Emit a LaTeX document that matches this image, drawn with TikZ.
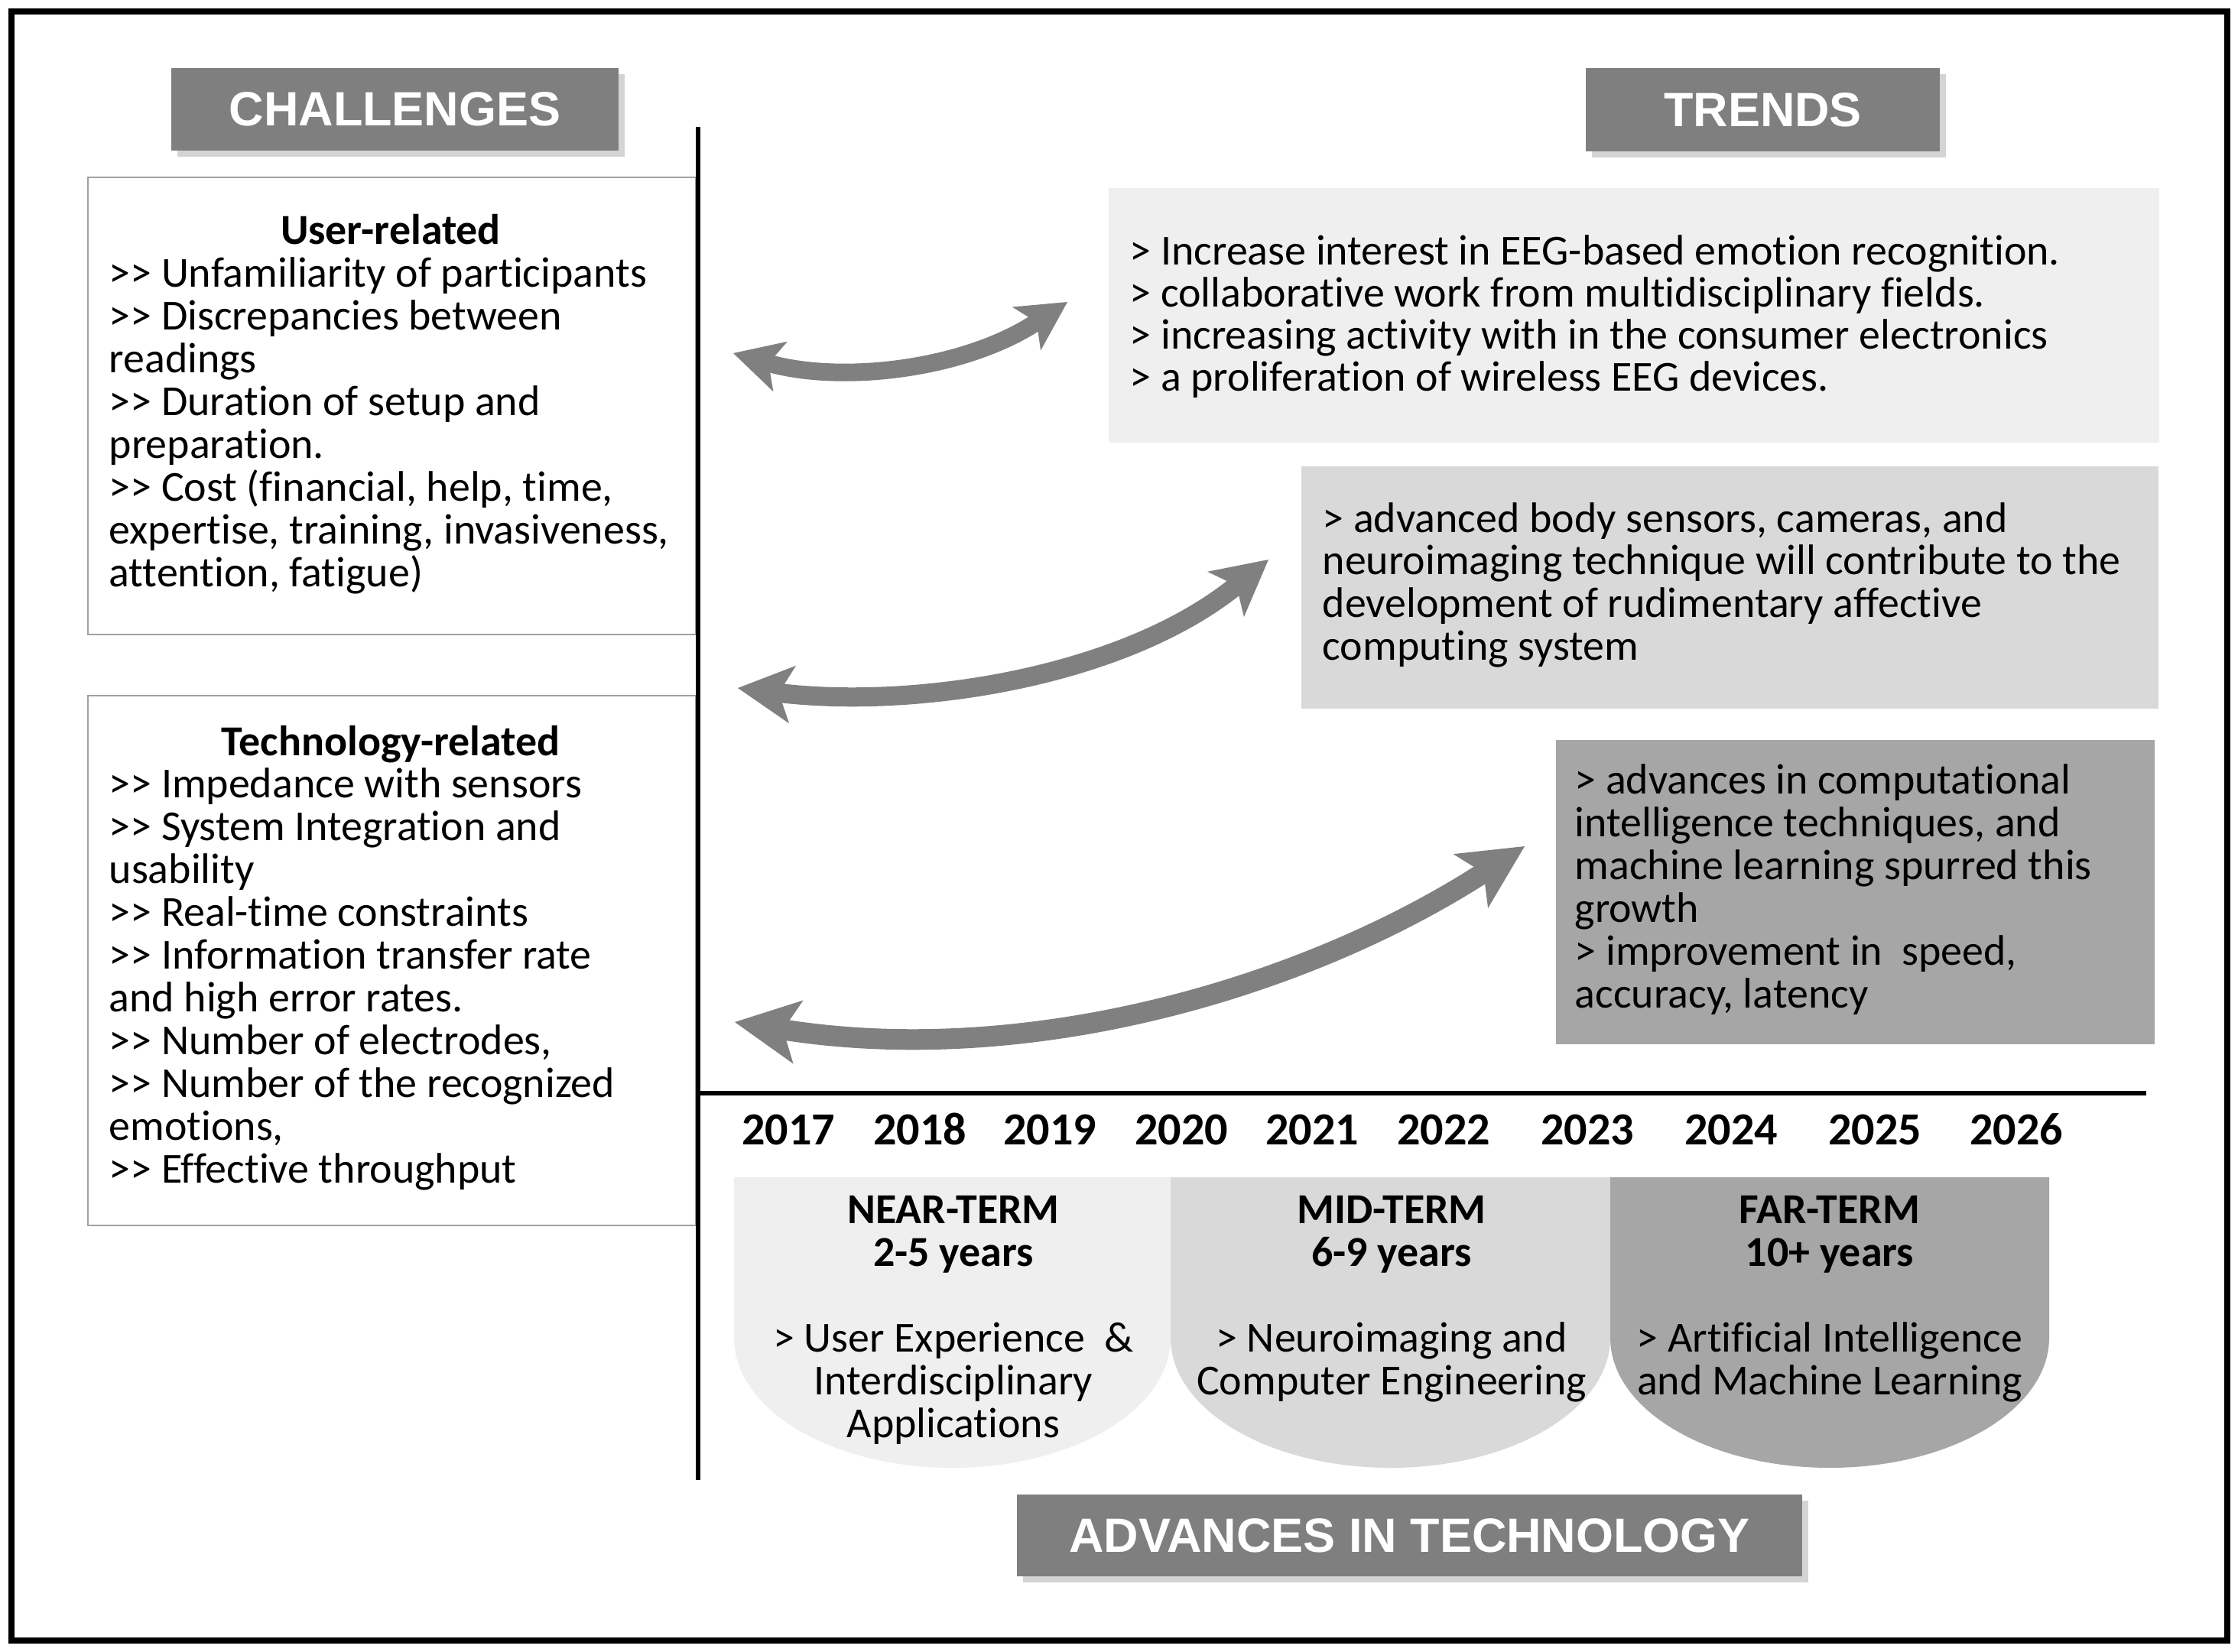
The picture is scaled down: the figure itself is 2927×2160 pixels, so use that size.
\documentclass[tikz,border=0pt]{standalone}
\usepackage{fontspec}
\setmainfont{Carlito}[Ligatures={TeXOff,CommonOff}]
\newfontfamily\hdrfont{Liberation Sans}
\usetikzlibrary{arrows.meta}
\definecolor{hdrgray}{HTML}{7F7F7F}
\definecolor{shgray}{HTML}{D4D4D4}
\definecolor{arrgray}{HTML}{808080}
\definecolor{lightfill}{HTML}{EFEFEF}
\definecolor{midfill}{HTML}{D9D9D9}
\definecolor{darkfill}{HTML}{A6A6A6}
\definecolor{bordergray}{HTML}{A0A0A0}
\tikzset{
  hdr/.style={fill=hdrgray, text=white, font=\hdrfont\fontsize{17.9pt}{17.9pt}\selectfont\bfseries,
    inner sep=0pt, preaction={fill=shgray, transform canvas={shift={(0.08cm,-0.08cm)}}}},
  body/.style={font=\fontsize{15.9pt}{15.9pt}\selectfont, inner sep=0pt, anchor=base west},
  bodyc/.style={font=\fontsize{15.9pt}{15.9pt}\selectfont, inner sep=0pt, anchor=base},
  boldc/.style={font=\fontsize{15.9pt}{15.9pt}\selectfont\bfseries, inner sep=0pt, anchor=base},
  year/.style={font=\fontsize{17.1pt}{17.1pt}\selectfont\bfseries, inner sep=0pt, anchor=base},
  cbox/.style={draw=bordergray, line width=0.02cm, fill=white, inner sep=0pt, anchor=north west},
  arrA/.style={draw=arrgray, line width=0.23cm,
    {Stealth[length=0.64cm,width=0.68cm,inset=0.16cm,line width=0pt]}-{Stealth[length=0.64cm,width=0.68cm,inset=0.16cm,line width=0pt]}},
  arrB/.style={draw=arrgray, line width=0.25cm,
    {Stealth[length=0.72cm,width=0.76cm,inset=0.18cm,line width=0pt]}-{Stealth[length=0.72cm,width=0.76cm,inset=0.18cm,line width=0pt]}},
  arrC/.style={draw=arrgray, line width=0.27cm,
    {Stealth[length=0.84cm,width=0.84cm,inset=0.2cm,line width=0pt]}-{Stealth[length=0.84cm,width=0.84cm,inset=0.2cm,line width=0pt]}},
  axis/.style={line width=0.055cm, draw=black}
}
\begin{document}
\begin{tikzpicture}[x=0.01cm,y=-0.01cm]
\useasboundingbox (0,0) rectangle (2927,2160);
\fill[white] (0,0) rectangle (2927,2160);
\draw[line width=0.08cm] (15,15) rectangle (2913,2146);

% headers
\node[hdr, minimum width=5.85cm, minimum height=1.08cm] (chal) at (516.5,143) {CHALLENGES};
\node[hdr, minimum width=4.63cm, minimum height=1.09cm] (trends) at (2305.5,143.5) {TRENDS};
\node[hdr, minimum width=10.27cm, minimum height=1.07cm] (adv) at (1843.5,2008.5) {ADVANCES IN TECHNOLOGY};

% trend boxes
\node[fill=lightfill, inner sep=0pt, minimum width=13.73cm, minimum height=3.33cm, anchor=north west] (t1) at (1449,245) {};
\node[fill=midfill, inner sep=0pt, minimum width=11.21cm, minimum height=3.17cm, anchor=north west] (t2) at (1701,609) {};
\node[fill=darkfill, inner sep=0pt, minimum width=7.83cm, minimum height=3.98cm, anchor=north west] (t3) at (2034,967) {};

% challenge boxes
\node[cbox, minimum width=7.95cm, minimum height=5.98cm] (ubox) at (114,231) {};
\node[cbox, minimum width=7.95cm, minimum height=6.93cm] (tbox) at (114,909) {};

% axes
\coordinate (vtop) at (913,166);
\coordinate (vbot) at (913,1936);
\coordinate (hl) at (913,1430);
\coordinate (hr) at (2807,1430);
\draw[axis] (vtop) -- (vbot);
\draw[axis] (hl) -- (hr);

% user-related text
\node[boldc] (uhead) at (511,319) {User-related};
\foreach \t [count=\i] in {{>> Unfamiliarity of participants},{>> Discrepancies between},{readings},{>> Duration of setup and},{preparation.},{>> Cost (financial, help, time,},{expertise, training, invasiveness,},{attention, fatigue)}}
  \node[body] (u\i) at (142,{319+56*\i}) {\t};

% technology-related text
\node[boldc] (thead) at (511,988) {Technology-related};
\foreach \t [count=\i] in {{>> Impedance with sensors},{>> System Integration and},{usability},{>> Real-time constraints},{>> Information transfer rate},{and high error rates.},{>> Number of electrodes,},{>> Number of the recognized},{emotions,},{>> Effective throughput}}
  \node[body] (tt\i) at (142,{988+55.96*\i}) {\t};

% trend texts
\foreach \t [count=\i from 0] in {{> Increase interest in EEG-based emotion recognition.},{> collaborative work from multidisciplinary fields.},{> increasing activity with in the consumer electronics},{> a proliferation of wireless EEG devices.}}
  \node[body] (ta\i) at (1477,{346+55*\i}) {\t};
\foreach \t [count=\i from 0] in {{> advanced body sensors, cameras, and},{neuroimaging technique will contribute to the},{development of rudimentary affective},{computing system}}
  \node[body] (tb\i) at (1729,{696+55.7*\i}) {\t};
\foreach \t [count=\i from 0] in {{> advances in computational},{intelligence techniques, and},{machine learning spurred this},{growth},{> improvement in\ \ speed,},{accuracy, latency}}
  \node[body] (tc\i) at (2059,{1038+56.1*\i}) {\t};

% arrows
\coordinate (a1l) at (959,462);
\coordinate (a1r) at (1396,395);
\coordinate (a2l) at (965,900);
\coordinate (a2r) at (1659,732);
\coordinate (a3l) at (961,1337);
\coordinate (a3r) at (1994,1107);
\draw[arrA] (a1l) .. controls (1100,502) and (1260,484) .. (a1r);
\draw[arrB] (a2l) .. controls (1200,928) and (1470,885) .. (a2r);
\draw[arrC] (a3l) .. controls (1350,1398) and (1710,1290) .. (a3r);

% years
\foreach \yr/\xx in {2017/1031,2018/1203,2019/1373,2020/1545,2021/1716,2022/1888,2023/2076,2024/2264,2025/2452,2026/2637}
  \node[year] (y\yr) at (\xx,1497) {\yr};

% term shapes
\fill[lightfill] (960,1540) -- (1531,1540) -- (1531,1750) .. controls (1531,1844) and (1403.5,1920) .. (1245.5,1920) .. controls (1087.5,1920) and (960,1844) .. (960,1750) -- cycle;
\fill[midfill] (1531,1540) -- (2106,1540) -- (2106,1750) .. controls (2106,1844) and (1977.5,1920) .. (1818.5,1920) .. controls (1659.5,1920) and (1531,1844) .. (1531,1750) -- cycle;
\fill[darkfill] (2106,1540) -- (2680,1540) -- (2680,1750) .. controls (2680,1844) and (2551.5,1920) .. (2393,1920) .. controls (2234.5,1920) and (2106,1844) .. (2106,1750) -- cycle;

\node[boldc] (n1) at (1247,1600) {NEAR-TERM};
\node[boldc] (n2) at (1247,1656) {2-5 years};
\node[bodyc] (n3) at (1247,1768) {> User Experience\ \ \&};
\node[bodyc] (n4) at (1247,1824) {Interdisciplinary};
\node[bodyc] (n5) at (1247,1880) {Applications};

\node[boldc] (m1) at (1820,1600) {MID-TERM};
\node[boldc] (m2) at (1820,1656) {6-9 years};
\node[bodyc] (m3) at (1820,1768) {> Neuroimaging and};
\node[bodyc] (m4) at (1820,1824) {Computer Engineering};

\node[boldc] (f1) at (2393,1600) {FAR-TERM};
\node[boldc] (f2) at (2393,1656) {10+ years};
\node[bodyc] (f3) at (2393,1768) {> Artificial Intelligence};
\node[bodyc] (f4) at (2393,1824) {and Machine Learning};
\end{tikzpicture}
\end{document}
